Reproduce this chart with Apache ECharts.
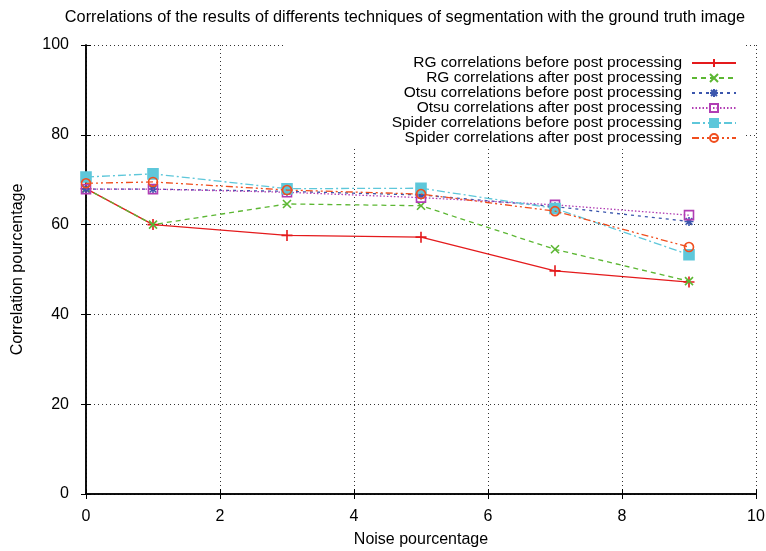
<!DOCTYPE html>
<html>
<head>
<meta charset="utf-8">
<script src="https://cdn.jsdelivr.net/npm/echarts@6/dist/echarts.min.js"></script>
<style>html,body{margin:0;padding:0;background:#fff}#c{width:766px;height:551px}</style>
</head>
<body>
<div id="c"></div>
<script>
var noise = [0, 1, 3, 5, 7, 9];
var rgBefore = [68.0, 60.0, 57.6, 57.2, 49.7, 47.2];
var rgAfter = [68.0, 60.0, 64.6, 64.2, 54.5, 47.4];
var otsuBefore = [67.9, 67.9, 67.4, 66.6, 64.0, 60.7];
var otsuAfter = [67.9, 67.9, 67.2, 66.0, 64.4, 62.1];
var spiderBefore = [70.6, 71.3, 68.0, 68.1, 63.6, 53.3];
var spiderAfter = [69.2, 69.5, 67.7, 66.8, 63.0, 55.0];
var names = [
  'RG correlations before post processing',
  'RG correlations after post processing',
  'Otsu correlations before post processing',
  'Otsu correlations after post processing',
  'Spider correlations before post processing',
  'Spider correlations after post processing'
];
var xTicks = [0, 2, 4, 6, 8, 10];
var yTicks = [0, 20, 40, 60, 80, 100];

function pairs(ys) { return noise.map(function (x, i) { return [x, ys[i]]; }); }

var PLUS = 'path://M0,-1L0,1M-1,0L1,0';
var CROSS = 'path://M-1,-1L1,1M-1,1L1,-1';
var STAR = 'path://M0,-1L0,1M-1,0L1,0M-0.75,-0.75L0.75,0.75M-0.75,0.75L0.75,-0.75';

var styles = [
  {c: '#e41a1c', t: 'solid', s: PLUS, sz: 11, fill: '#e41a1c'},
  {c: '#5cb733', t: [5, 4], s: CROSS, sz: 8, fill: '#5cb733'},
  {c: '#3b56ad', t: [3, 4], s: STAR, sz: 9, fill: '#3b56ad'},
  {c: '#b13db4', t: [1.5, 2], s: 'rect', sz: 9, fill: 'rgba(0,0,0,0)'},
  {c: '#5ec7da', t: [8, 3, 2, 3], s: 'rect', sz: 10, fill: '#5ec7da'},
  {c: '#f04e1e', t: [7, 3, 2, 3, 2, 3], s: 'circle', sz: 9, fill: 'rgba(0,0,0,0)'}
];
var dataSets = [rgBefore, rgAfter, otsuBefore, otsuAfter, spiderBefore, spiderAfter];

var series = dataSets.map(function (d, i) {
  var st = styles[i];
  return {
    name: names[i], type: 'line', data: pairs(d),
    symbol: st.s, symbolSize: st.sz, showAllSymbol: true,
    lineStyle: {color: st.c, width: 1.3, type: st.t},
    itemStyle: {color: st.fill, borderColor: st.c, borderWidth: 1.6},
    emphasis: {disabled: true},
    animation: false, z: 3 + i
  };
});

var font = 'Liberation Sans, Arial, sans-serif';
var gridLine = {show: true, lineStyle: {color: '#333', width: 1, type: [1, 3]}};

var chart = echarts.init(document.getElementById('c'), null, {renderer: 'canvas'});
chart.setOption({
  backgroundColor: '#fff',
  animation: false,
  textStyle: {fontFamily: font},
  title: {
    text: 'Correlations of the results of differents techniques of segmentation with the ground truth image',
    left: 400, top: 5, textAlign: 'center',
    textStyle: {fontFamily: font, fontSize: 16.3, fontWeight: 'normal', color: '#000'}
  },
  legend: {
    orient: 'vertical', right: 20, top: 45, align: 'right',
    itemWidth: 44, itemHeight: 10, itemGap: -1,
    backgroundColor: '#fff',
    padding: [10, 9, 3, 96],
    selectedMode: false,
    data: names,
    textStyle: {fontFamily: font, fontSize: 15.5, lineHeight: 14, color: '#000', width: 300, align: 'right',
      padding: [0, 5, 0, 0]}
  },
  grid: {left: 86, right: 10, top: 45, bottom: 57, outerBoundsMode: 'none', containLabel: false},
  xAxis: [
    {type: 'value', min: 0, max: 10, interval: 2, position: 'bottom',
     name: 'Noise pourcentage', nameLocation: 'middle', nameGap: 38,
     nameTextStyle: {fontFamily: font, fontSize: 16, color: '#000'},
     axisLine: {show: true, lineStyle: {color: '#000', width: 1.5}},
     axisTick: {show: true, length: 5, lineStyle: {color: '#000'}},
     axisLabel: {fontFamily: font, fontSize: 16, color: '#000', margin: 15,
       formatter: function (v) { return xTicks.indexOf(v) >= 0 ? String(v) : ''; }},
     splitLine: gridLine},
    {type: 'value', min: 0, max: 10, interval: 2, position: 'bottom',
     axisLine: {show: false}, axisTick: {show: true, inside: true, length: 5, lineStyle: {color: '#000'}},
     axisLabel: {show: false}, splitLine: {show: false}},
    {type: 'value', min: 0, max: 10, interval: 2, position: 'top',
     axisLine: {show: true, lineStyle: {color: '#000', width: 1.5}},
     axisTick: {show: true, inside: true, length: 5, lineStyle: {color: '#000'}},
     axisLabel: {show: false}, splitLine: {show: false}}
  ],
  yAxis: [
    {type: 'value', min: 0, max: 100, interval: 20, position: 'left',
     name: 'Correlation pourcentage', nameLocation: 'middle', nameGap: 60, nameRotate: 90,
     nameTextStyle: {fontFamily: font, fontSize: 16, color: '#000'},
     axisLine: {show: true, lineStyle: {color: '#000', width: 1.5}},
     axisTick: {show: true, length: 5, lineStyle: {color: '#000'}},
     axisLabel: {fontFamily: font, fontSize: 16, color: '#000', margin: 17,
       formatter: function (v) { return yTicks.indexOf(v) >= 0 ? String(v) : ''; }},
     splitLine: gridLine},
    {type: 'value', min: 0, max: 100, interval: 20, position: 'left',
     axisLine: {show: false}, axisTick: {show: true, inside: true, length: 5, lineStyle: {color: '#000'}},
     axisLabel: {show: false}, splitLine: {show: false}},
    {type: 'value', min: 0, max: 100, interval: 20, position: 'right',
     axisLine: {show: true, lineStyle: {color: '#000', width: 1.5}},
     axisTick: {show: true, inside: true, length: 5, lineStyle: {color: '#000'}},
     axisLabel: {show: false}, splitLine: {show: false}}
  ],
  series: series
});
</script>
</body>
</html>
